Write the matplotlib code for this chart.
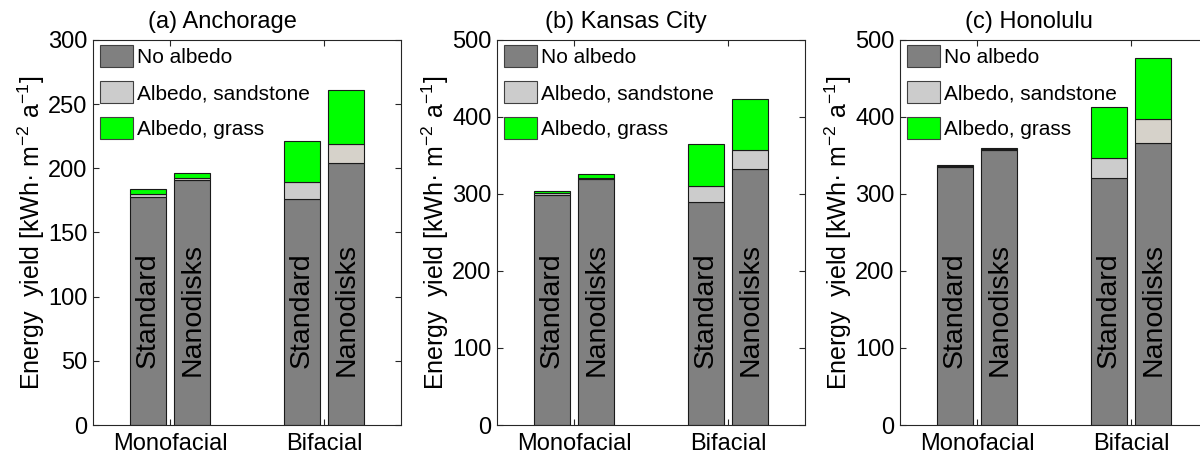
import matplotlib
matplotlib.use('Agg')
import matplotlib.pyplot as plt
import matplotlib.transforms as mtransforms

plt.rcParams['font.family'] = ['Liberation Sans', 'DejaVu Sans']
plt.rcParams['mathtext.fontset'] = 'custom'
plt.rcParams['mathtext.rm'] = 'Liberation Sans'
plt.rcParams['mathtext.default'] = 'regular'

# data: bars are mono/standard, mono/nanodisks, bi/standard, bi/nanodisks
titles = ['(a) Anchorage', '(b) Kansas City', '(c) Honolulu']
groups = ['Monofacial', 'Bifacial']
cells = ['Standard', 'Nanodisks']
legend_labels = ['No albedo', 'Albedo, sandstone', 'Albedo, grass']

# total energy yield [kWh m-2 a-1] per case
anc_no_albedo = [178.0, 190.7, 176.4, 204.4]
anc_sandstone = [179.9, 192.2, 189.1, 219.0]
anc_grass = [184.2, 196.6, 221.6, 260.8]

kc_no_albedo = [299.3, 319.0, 289.2, 331.9]
kc_sandstone = [300.9, 320.6, 310.4, 357.1]
kc_grass = [304.3, 325.4, 364.4, 423.0]

hnl_no_albedo = [335.6, 357.6, 320.3, 366.8]
hnl_sandstone = [336.3, 358.4, 347.0, 397.5]
hnl_grass = [337.6, 360.0, 413.3, 477.2]

ymax = [300, 500, 500]
ystep = [50, 100, 100]

# styling
c_none = '#808080'
c_sand = '#cccccc'
c_sand_nano = ['#d6d2ca', '#cccccc', '#d6d2ca']
c_grass = '#00ff00'
edge = '#1a1a1a'
axcol = '#262626'

W, H = 1200, 457
fig = plt.figure(figsize=(W / 100, H / 100), dpi=100)

lefts = [93, 497, 900]
ax_w = 308
ax_bot = 425
ax_top = 40

data = [(anc_no_albedo, anc_sandstone, anc_grass),
        (kc_no_albedo, kc_sandstone, kc_grass),
        (hnl_no_albedo, hnl_sandstone, hnl_grass)]

offset = 0.145
bw = 0.235

for k in range(3):
    ax = fig.add_axes([lefts[k] / W, 1 - ax_bot / H, ax_w / W, (ax_bot - ax_top) / H])
    none, sand, grass = data[k]
    trans = mtransforms.blended_transform_factory(ax.transData, ax.transAxes)
    for i in range(4):
        g = i // 2
        c = i % 2
        x = g + 1 + (offset if c == 1 else -offset)
        sc = c_sand_nano[k] if c == 1 else c_sand
        ax.bar(x, none[i], width=bw, color=c_none, edgecolor=edge, linewidth=0.8, zorder=2)
        ax.bar(x, sand[i] - none[i], bottom=none[i], width=bw, color=sc,
               edgecolor=edge, linewidth=0.8, zorder=2)
        ax.bar(x, grass[i] - sand[i], bottom=sand[i], width=bw, color=c_grass,
               edgecolor=edge, linewidth=0.8, zorder=2)
        ax.text(x, 0.299, cells[c], rotation=90, ha='center', va='center',
                fontsize=20.5, color='black', transform=trans, zorder=3)

    ax.set_xlim(0.5, 2.5)
    ax.set_ylim(0, ymax[k])
    ax.set_xticks([1, 2])
    ax.set_xticklabels(groups)
    ax.set_yticks(range(0, ymax[k] + 1, ystep[k]))
    ax.tick_params(axis='both', direction='in', length=4, width=0.8, color=axcol,
                   labelsize=17, top=True, right=True)
    ax.tick_params(axis='x', pad=6)
    ax.tick_params(axis='y', pad=4)
    for s in ax.spines.values():
        s.set_color(axcol)
        s.set_linewidth(0.8)
        s.set_zorder(4)

    ax.set_ylabel('Energy  yield [kWh· m$^{-2}$ a$^{-1}$]', fontsize=18)
    ax.yaxis.set_label_coords(-0.15, 0.5)
    ax.set_title(titles[k], fontsize=17, x=0.42, pad=8.5)

    leg_patches = [plt.Rectangle((0, 0), 1, 1, facecolor=col, edgecolor='#404040', linewidth=0.8)
                   for col in [c_none, c_sand, c_grass]]
    ax.legend(leg_patches, legend_labels, loc='upper left',
              bbox_to_anchor=(7 / ax_w, 1 - 5 / (ax_bot - ax_top)),
              frameon=False, fontsize=15, borderpad=0, borderaxespad=0,
              handlelength=1.59, handleheight=1.25, labelspacing=0.67,
              handletextpad=0.18)

fig.savefig('out.png', dpi=100)
